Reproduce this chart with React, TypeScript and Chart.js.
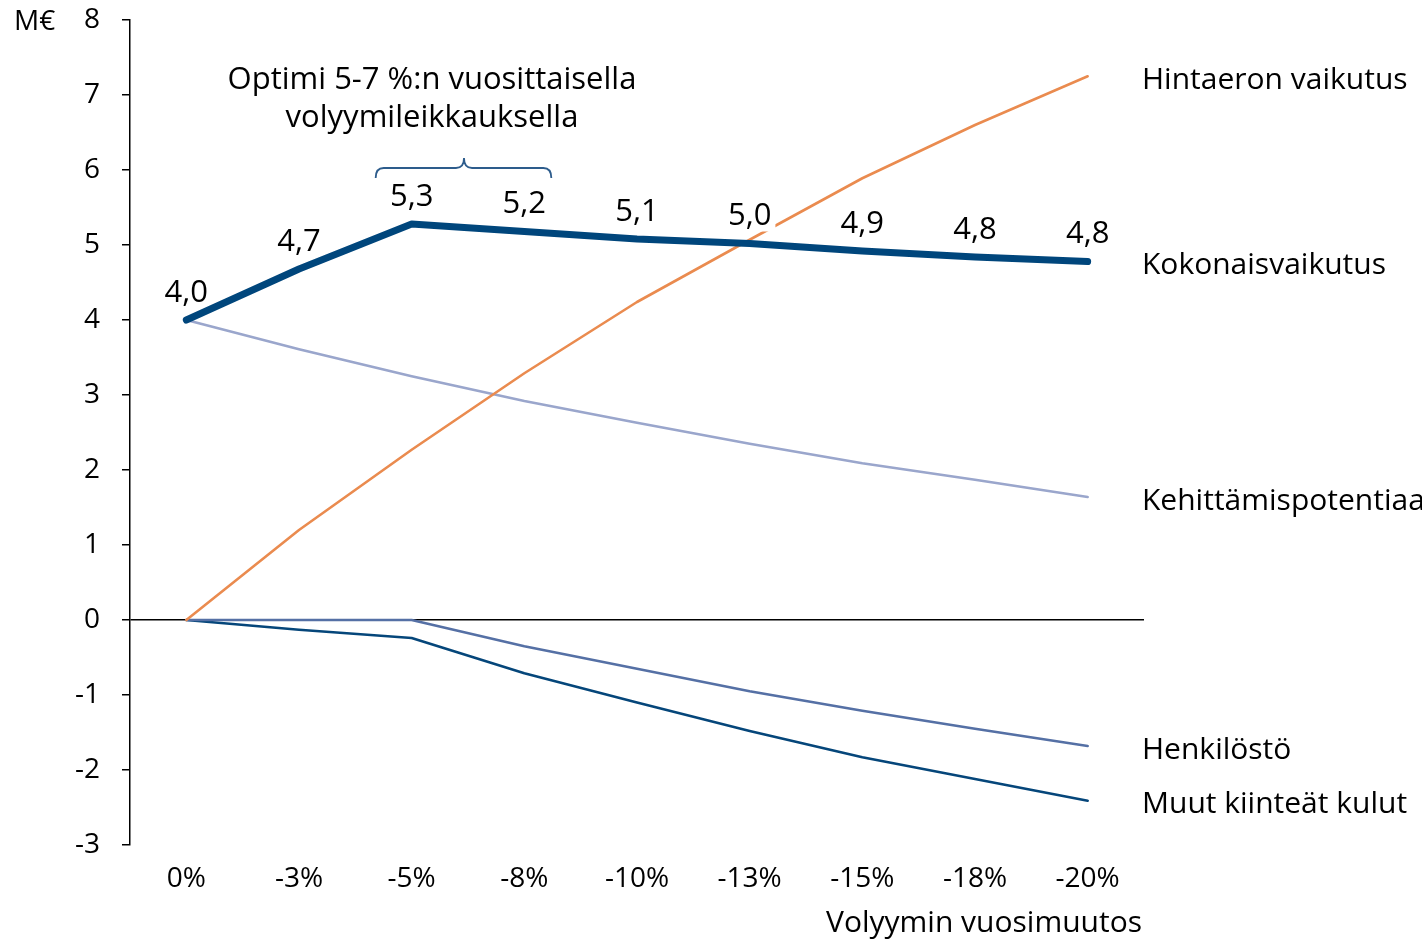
import React, { useEffect, useRef } from "react";
import { Chart, registerables } from "chart.js";

Chart.register(...registerables);

// Annual volume change scenarios
const categories = ["0%", "-3%", "-5%", "-8%", "-10%", "-13%", "-15%", "-18%", "-20%"];

// Effects in M€
const kokonaisvaikutus = [4.0, 4.68, 5.28, 5.18, 5.08, 5.02, 4.92, 4.84, 4.78];
const hintaeronVaikutus = [0, 1.2, 2.27, 3.29, 4.24, 5.07, 5.89, 6.6, 7.25];
const kehittamispotentiaali = [4.0, 3.61, 3.25, 2.92, 2.63, 2.35, 2.09, 1.87, 1.64];
const henkilosto = [0, 0, 0, -0.35, -0.65, -0.95, -1.21, -1.45, -1.68];
const muutKiinteatKulut = [0, -0.13, -0.24, -0.71, -1.1, -1.48, -1.83, -2.12, -2.41];

const seriesNames = [
  "Kokonaisvaikutus",
  "Hintaeron vaikutus",
  "Kehittämispotentiaali",
  "Henkilöstö",
  "Muut kiinteät kulut",
];

const yMin = -3;
const yMax = 8;

const FONT = '"Open Sans", "Noto Sans", sans-serif';
const FS_TICK = 28;
const FS_TEXT = 31;
const FS_NAME = 30;

const COLORS = {
  total: "#00467c",
  price: "#ea8b4f",
  potential: "#9aa6cc",
  staff: "#5570a5",
  other: "#05467a",
  brace: "#2d5c8c",
};

const fmt = (v: number) => v.toFixed(1).replace(".", ",");

const overlayPlugin = {
  id: "overlayText",
  // value labels sit on white boxes above the thinner lines, under the total line
  beforeDatasetDraw(chart: any, args: any) {
    if (args.index !== 0) return;
    const { ctx } = chart;
    const xs = chart.scales.x;
    const ys = chart.scales.y;
    ctx.save();
    ctx.font = `${FS_TEXT}px ${FONT}`;
    ctx.textAlign = "center";
    ctx.textBaseline = "middle";
    kokonaisvaikutus.forEach((v, i) => {
      const px = xs.getPixelForValue(i);
      const py = ys.getPixelForValue(v) - 27;
      const t = fmt(v);
      const w = ctx.measureText(t).width;
      ctx.fillStyle = "#fff";
      ctx.fillRect(px - w / 2 - 4, py - 15, w + 8, 30);
      ctx.fillStyle = "#000";
      ctx.fillText(t, px, py);
    });
    ctx.restore();
  },
  afterDatasetsDraw(chart: any) {
    const { ctx, chartArea } = chart;
    const xs = chart.scales.x;
    const ys = chart.scales.y;
    ctx.save();
    ctx.font = `${FS_TEXT}px ${FONT}`;
    ctx.fillStyle = "#000";
    ctx.textBaseline = "middle";

    // optimum note and brace
    const x1 = xs.getPixelForValue(2);
    const x2 = xs.getPixelForValue(3);
    const mid = (x1 + x2) / 2 - 4;
    ctx.textAlign = "center";
    ctx.fillText("Optimi 5-7 %:n vuosittaisella", mid - 32, 80);
    ctx.fillText("volyymileikkauksella", mid - 32, 118);

    const bl = x1 - 36;
    const br = x2 + 27;
    const by = 168;
    ctx.strokeStyle = COLORS.brace;
    ctx.lineWidth = 1.8;
    ctx.beginPath();
    ctx.moveTo(bl, by + 10);
    ctx.quadraticCurveTo(bl, by, bl + 8, by);
    ctx.lineTo(mid - 8, by);
    ctx.quadraticCurveTo(mid, by, mid, by - 10);
    ctx.quadraticCurveTo(mid, by, mid + 8, by);
    ctx.lineTo(br - 8, by);
    ctx.quadraticCurveTo(br, by, br, by + 10);
    ctx.stroke();

    // series names at the right end of each line
    const lasts = [kokonaisvaikutus, hintaeronVaikutus, kehittamispotentiaali, henkilosto, muutKiinteatKulut];
    ctx.font = `${FS_NAME}px ${FONT}`;
    ctx.textAlign = "left";
    lasts.forEach((arr, k) => {
      const py = ys.getPixelForValue(arr[arr.length - 1]) + 4;
      ctx.fillText(seriesNames[k], chartArea.right - 2, py);
    });

    // x axis title
    ctx.textAlign = "right";
    ctx.fillText("Volyymin vuosimuutos", chartArea.right - 2, 923);

    // unit
    ctx.font = `${FS_TICK}px ${FONT}`;
    ctx.textAlign = "left";
    ctx.fillText("M€", 14, 22);
    ctx.restore();
  },
};

export default function App() {
  const ref = useRef<HTMLCanvasElement | null>(null);

  useEffect(() => {
    if (!ref.current) return;
    const line = (label: string, data: number[], color: string, width: number) => ({
      label,
      data,
      borderColor: color,
      backgroundColor: color,
      borderWidth: width,
      pointRadius: 0,
      tension: 0,
      fill: false,
      borderCapStyle: "round" as const,
      borderJoinStyle: "round" as const,
    });

    const chart = new Chart(ref.current, {
      type: "line",
      data: {
        labels: categories,
        datasets: [
          line(seriesNames[0], kokonaisvaikutus, COLORS.total, 7),
          line(seriesNames[1], hintaeronVaikutus, COLORS.price, 2.6),
          line(seriesNames[2], kehittamispotentiaali, COLORS.potential, 2.6),
          line(seriesNames[3], henkilosto, COLORS.staff, 2.6),
          line(seriesNames[4], muutKiinteatKulut, COLORS.other, 2.6),
        ],
      },
      options: {
        responsive: false,
        animation: false,
        layout: { padding: { left: 0, top: 20, right: 278, bottom: 0 } },
        plugins: {
          legend: { display: false },
          tooltip: { enabled: false },
        },
        scales: {
          x: {
            type: "category",
            offset: true,
            grid: { display: false, drawTicks: false },
            border: { display: false },
            ticks: {
              color: "#000",
              padding: 17,
              maxRotation: 0,
              autoSkip: false,
              font: { family: FONT, size: FS_TICK },
            },
            afterFit: (s: any) => {
              s.height = 95;
              s.paddingLeft = 0;
              s.paddingRight = 0;
            },
          },
          y: {
            min: yMin,
            max: yMax,
            ticks: {
              stepSize: 1,
              color: "#000",
              padding: 22,
              font: { family: FONT, size: FS_TICK },
            },
            grid: {
              drawOnChartArea: true,
              drawTicks: true,
              tickLength: 8,
              lineWidth: 1.5,
              tickColor: "#000",
              color: (c: any) => (c.tick && c.tick.value === 0 ? "#000" : "rgba(0,0,0,0)"),
            },
            border: { display: true, color: "#000", width: 1.5 },
            afterFit: (s: any) => {
              s.width = 130;
              s.paddingTop = 0;
              s.paddingBottom = 0;
            },
          },
        },
      },
      plugins: [overlayPlugin],
    });
    return () => chart.destroy();
  }, []);

  return (
    <div style={{ position: "fixed", left: 0, top: 0, width: 1422, height: 940, background: "#fff" }}>
      <canvas ref={ref} width={1422} height={940} style={{ display: "block" }} />
    </div>
  );
}
